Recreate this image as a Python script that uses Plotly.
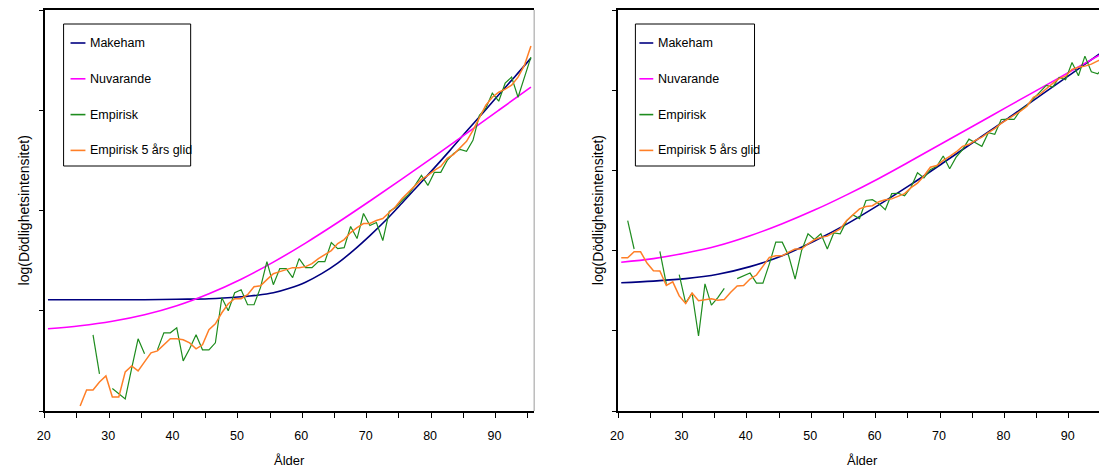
import plotly.graph_objects as go

# ---------------- data ----------------
# Left panel
ages_model_l = [20, 25, 30, 35, 40, 45, 50, 52.5, 55, 57.5, 60, 62.5, 65, 67.5, 70, 72.5, 75, 77.5,
                80, 82.5, 85, 87.5, 90, 92.5, 95]
makeham_l = [-7.78, -7.78, -7.78, -7.78, -7.77, -7.76, -7.72, -7.69, -7.64, -7.55, -7.43, -7.26,
             -7.05, -6.79, -6.50, -6.19, -5.85, -5.50, -5.15, -4.79, -4.42, -4.06, -3.69, -3.33, -2.96]
ages_nuv_l = [20, 25, 30, 35, 40, 45, 50, 55, 60, 65, 70, 75, 80, 85, 90, 95]
nuvarande_l = [-8.36, -8.30, -8.21, -8.08, -7.90, -7.66, -7.37, -7.03, -6.65, -6.24, -5.81, -5.37,
               -4.92, -4.46, -4.00, -3.54]
ages_emp_l = list(range(27, 96))
empirisk_l = [-8.48, -9.26, None, -9.55, -9.66, -9.76, -9.15, -8.56, -8.86, None,
              -8.78, -8.44, -8.44, -8.34, -9.00, -8.76, -8.48, -8.78, -8.78, -8.64,
              -7.74, -8.00, -7.64, -7.58, -7.88, -7.88, -7.54, -7.02, -7.48, -7.16,
              -7.16, -7.34, -6.96, -7.14, -7.14, -7.02, -7.02, -6.64, -6.76, -6.74,
              -6.32, -6.56, -6.06, -6.30, -6.24, -6.60, -6.02, -5.94, -5.80, -5.68,
              -5.50, -5.30, -5.50, -5.24, -5.24, -5.00, -4.86, -4.78, -4.82, -4.60,
              -4.10, -3.96, -3.66, -3.82, -3.46, -3.34, -3.74, -3.36, -2.94]
ages_glid_l = list(range(25, 96))
glid_l = [-9.90, -9.58, -9.58, -9.42, -9.30, -9.72, -9.72, -9.22, -9.10, -9.20,
          -9.02, -8.84, -8.80, -8.68, -8.56, -8.56, -8.58, -8.64, -8.76, -8.68,
          -8.38, -8.26, -8.04, -7.86, -7.76, -7.76, -7.68, -7.52, -7.50, -7.38,
          -7.26, -7.22, -7.18, -7.14, -7.14, -7.12, -7.06, -6.96, -6.88, -6.80,
          -6.66, -6.58, -6.44, -6.34, -6.26, -6.26, -6.20, -6.16, -6.04, -5.92,
          -5.76, -5.64, -5.52, -5.38, -5.30, -5.20, -5.12, -4.96, -4.88, -4.76,
          -4.62, -4.40, -4.16, -3.90, -3.74, -3.64, -3.58, -3.50, -3.34, -3.10, -2.72]

# Right panel
ages_model_r = [20, 25, 30, 35, 40, 45, 50, 55, 60, 65, 70, 75, 80, 85, 90, 95]
makeham_r = [-6.80, -6.76, -6.70, -6.59, -6.40, -6.13, -5.76, -5.34, -4.86, -4.35, -3.81, -3.26,
             -2.71, -2.14, -1.58, -1.01]
nuvarande_r = [-6.29, -6.20, -6.06, -5.88, -5.63, -5.33, -4.99, -4.61, -4.20, -3.76, -3.31, -2.86,
               -2.41, -1.96, -1.51, -1.06]
ages_emp_r = list(range(21, 96))
empirisk_r = [-5.25, -5.96, None, None, None, -6.02, -6.83, None, -6.60, -7.31,
              -7.06, -8.13, -6.83, -7.36, -7.17, -6.94, None, -6.70, -6.64, -6.56,
              -6.81, -6.81, -6.33, -5.79, -5.79, -6.13, -6.71, -6.00, -5.58, -5.72,
              -5.58, -5.96, -5.56, -5.58, -5.26, -5.11, -5.20, -4.75, -4.73, -4.83,
              -4.98, -4.58, -4.57, -4.63, -4.42, -4.06, -4.19, -3.98, -3.90, -3.64,
              -3.96, -3.67, -3.48, -3.22, -3.31, -3.40, -3.06, -3.10, -2.73, -2.72,
              -2.73, -2.50, -2.38, -2.22, -2.04, -1.88, -1.92, -1.68, -1.74, -1.31,
              -1.64, -1.15, -1.54, -1.59, -1.40]
ages_glid_r = list(range(20, 96))
glid_r = [-6.18, -6.18, -6.03, -6.03, -6.31, -6.50, -6.51, -6.87, -6.78, -7.13,
          -7.32, -7.06, -7.25, -7.23, -7.20, -7.24, -7.22, -7.04, -6.88, -6.87,
          -6.71, -6.61, -6.38, -6.17, -6.13, -6.13, -6.04, -5.96, -5.96, -5.83,
          -5.73, -5.67, -5.64, -5.56, -5.46, -5.25, -5.11, -4.96, -4.90, -4.88,
          -4.78, -4.73, -4.71, -4.65, -4.58, -4.43, -4.32, -4.14, -3.92, -3.88,
          -3.75, -3.65, -3.54, -3.40, -3.35, -3.25, -3.17, -3.06, -2.96, -2.83,
          -2.73, -2.63, -2.52, -2.40, -2.18, -2.10, -1.96, -1.83, -1.71, -1.65,
          -1.48, -1.43, -1.40, -1.35, -1.27, -1.20]

x_tick_labels = ["20", "30", "40", "50", "60", "70", "80", "90"]
series_names = ["Makeham", "Nuvarande", "Empirisk", "Empirisk 5 års glid"]
series_colors = ["#000080", "#ff00ff", "#1e8c1e", "#ff7f27"]
y_title = "log(Dödlighetsintensitet)"
x_title = "Ålder"

# ---------------- layout helpers ----------------
W, H = 1099, 467
FONT = "Liberation Sans Narrow, Arial Narrow, Liberation Sans, Arial, sans-serif"
FONT_WIDE = "Liberation Sans, Arial, sans-serif"


def fx(p):
    return p / W


def fy(p):
    return 1 - p / H


TOP, BOTTOM = 10, 411
panels = [
    dict(x0=37, x1=530, xr=[19.5, 95.5], yr=[-10, -2], dtick=2, ytitle_x=16,
         leg=(56, 184, 63, 78, 81), right_border=True),
    dict(x0=614.5, x1=W, xr=[19.5, 19.5 + (W - 614.5) / 6.487], yr=[-10, 0], dtick=2, ytitle_x=594,
         leg=(632, 752, 636, 650, 653), right_border=False),
]
data_sets = [
    (ages_model_l, makeham_l, ages_nuv_l, nuvarande_l, ages_emp_l, empirisk_l, ages_glid_l, glid_l),
    (ages_model_r, makeham_r, ages_model_r, nuvarande_r, ages_emp_r, empirisk_r, ages_glid_r, glid_r),
]

fig = go.Figure()
shapes = []
annotations = []

for i, (p, d) in enumerate(zip(panels, data_sets)):
    sfx = "" if i == 0 else str(i + 1)
    xa, ya = "x" + sfx, "y" + sfx
    am, vm, an, vn, ae, ve, ag, vg = d
    fig.add_trace(go.Scatter(x=am, y=vm, mode="lines", name=series_names[0], xaxis=xa, yaxis=ya,
                             line=dict(color=series_colors[0], width=1.6, shape="spline", smoothing=1.0),
                             showlegend=False))
    fig.add_trace(go.Scatter(x=an, y=vn, mode="lines", name=series_names[1], xaxis=xa, yaxis=ya,
                             line=dict(color=series_colors[1], width=1.6, shape="spline", smoothing=1.0),
                             showlegend=False))
    fig.add_trace(go.Scatter(x=ae, y=ve, mode="lines", name=series_names[2], xaxis=xa, yaxis=ya,
                             line=dict(color=series_colors[2], width=1.2), connectgaps=False,
                             showlegend=False))
    fig.add_trace(go.Scatter(x=ag, y=vg, mode="lines", name=series_names[3], xaxis=xa, yaxis=ya,
                             line=dict(color=series_colors[3], width=1.5),
                             showlegend=False))

    tickvals = [19.5 + 5 * k for k in range(16) if 19.5 + 5 * k <= p["xr"][1]]
    ticktext = []
    for k in range(len(tickvals)):
        ticktext.append(x_tick_labels[k // 2] if k % 2 == 0 and k // 2 < len(x_tick_labels) else "")

    fig.update_layout(**{
        "xaxis" + sfx: dict(domain=[fx(p["x0"]), fx(p["x1"])], range=p["xr"], anchor=ya,
                            showgrid=False, zeroline=False, showline=True, linecolor="black",
                            linewidth=1.5, mirror=True, ticks="outside", ticklen=5, tickcolor="black",
                            tickwidth=1, tickvals=tickvals, ticktext=ticktext, ticklabelshift=-1,
                            ticklabelstandoff=7,
                            tickfont=dict(family=FONT, size=12.5, color="black")),
        "yaxis" + sfx: dict(domain=[fy(BOTTOM), fy(TOP)], range=p["yr"], anchor=xa,
                            showgrid=False, zeroline=False, showline=True, linecolor="black",
                            linewidth=1.5, ticks="outside", ticklen=4, tickcolor="black",
                            tickvals=[p["yr"][0] + p["dtick"] * k for k in range(int((p["yr"][1] - p["yr"][0]) / p["dtick"]) + 1)],
                            showticklabels=False),
    })

    if p["right_border"]:
        shapes.append(dict(type="line", xref="paper", yref="paper", x0=fx(p["x1"]), x1=fx(p["x1"]),
                           y0=fy(BOTTOM), y1=fy(TOP), line=dict(color="#9a9a9a", width=1)))

    # axis titles
    annotations.append(dict(text=y_title, xref="paper", yref="paper", x=fx(p["ytitle_x"]),
                            y=fy((TOP + BOTTOM) / 2), textangle=-90, showarrow=False,
                            xanchor="center", yanchor="middle",
                            font=dict(family=FONT_WIDE, size=14, color="black")))
    annotations.append(dict(text=x_title, xref="paper", yref="paper",
                            x=fx((p["x0"] + p["x0"] + 493) / 2), y=fy(460), showarrow=False,
                            xanchor="center", yanchor="middle",
                            font=dict(family=FONT, size=13, color="black")))

    # legend box
    bx0, bx1, lx0, lx1, tx = p["leg"]
    shapes.append(dict(type="rect", xref="paper", yref="paper", x0=fx(bx0), x1=fx(bx1),
                       y0=fy(166), y1=fy(24), line=dict(color="black", width=1), fillcolor="white"))
    for j, (nm, col) in enumerate(zip(series_names, series_colors)):
        yy = 43 + j * 35.8
        shapes.append(dict(type="line", xref="paper", yref="paper", x0=fx(lx0), x1=fx(lx1),
                           y0=fy(yy), y1=fy(yy), line=dict(color=col, width=1.6)))
        annotations.append(dict(text=nm, xref="paper", yref="paper", x=fx(tx), y=fy(yy),
                                showarrow=False, xanchor="left", yanchor="middle",
                                font=dict(family=FONT, size=12.5, color="black")))

fig.update_layout(width=W, height=H, margin=dict(l=0, r=0, t=0, b=0), autosize=False,
                  paper_bgcolor="white", plot_bgcolor="white", showlegend=False,
                  shapes=shapes, annotations=annotations)

fig.write_html("out.html")
